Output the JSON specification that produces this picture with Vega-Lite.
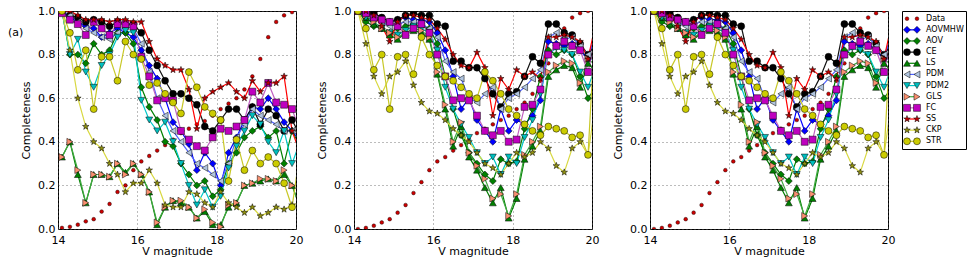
{
"$schema": "https://vega.github.io/schema/vega-lite/v6.json",
"padding": {"left": 7, "top": 4, "right": 2, "bottom": 2},
"background": "#ffffff",
"datasets": {
"d": [
{"p":1,"m":14.1,"Data":0.005,"AOVMHW":1,"AOV":1,"CE":1,"LS":0.33,"PDM":1,"PDM2":1,"GLS":0.33,"FC":0.99,"SS":1,"CKP":1,"STR":1},
{"p":1,"m":14.3,"Data":0.01,"AOVMHW":0.97,"AOV":0.8,"CE":0.98,"LS":0.4,"PDM":0.98,"PDM2":0.8,"GLS":0.4,"FC":0.96,"SS":1,"CKP":0.82,"STR":0.9},
{"p":1,"m":14.5,"Data":0.02,"AOVMHW":0.95,"AOV":0.8,"CE":0.97,"LS":0.25,"PDM":0.95,"PDM2":0.87,"GLS":0.27,"FC":0.94,"SS":0.98,"CKP":0.6,"STR":0.73},
{"p":1,"m":14.7,"Data":0.035,"AOVMHW":0.93,"AOV":0.76,"CE":0.95,"LS":0.12,"PDM":0.92,"PDM2":0.72,"GLS":0.12,"FC":0.89,"SS":0.96,"CKP":0.47,"STR":0.82},
{"p":1,"m":14.9,"Data":0.045,"AOVMHW":0.92,"AOV":0.85,"CE":0.96,"LS":0.25,"PDM":0.9,"PDM2":0.65,"GLS":0.25,"FC":0.95,"SS":0.96,"CKP":0.4,"STR":0.55},
{"p":1,"m":15.1,"Data":0.08,"AOVMHW":0.88,"AOV":0.8,"CE":0.95,"LS":0.25,"PDM":0.88,"PDM2":0.75,"GLS":0.25,"FC":0.92,"SS":0.96,"CKP":0.37,"STR":0.79},
{"p":1,"m":15.3,"Data":0.115,"AOVMHW":0.9,"AOV":0.82,"CE":0.93,"LS":0.24,"PDM":0.87,"PDM2":0.8,"GLS":0.24,"FC":0.89,"SS":0.95,"CKP":0.3,"STR":0.79},
{"p":1,"m":15.5,"Data":0.17,"AOVMHW":0.92,"AOV":0.9,"CE":0.95,"LS":0.3,"PDM":0.9,"PDM2":0.88,"GLS":0.3,"FC":0.94,"SS":0.96,"CKP":0.25,"STR":0.68},
{"p":1,"m":15.7,"Data":0.2,"AOVMHW":0.9,"AOV":0.9,"CE":0.94,"LS":0.26,"PDM":0.93,"PDM2":0.91,"GLS":0.25,"FC":0.94,"SS":0.96,"CKP":0.17,"STR":0.86},
{"p":1,"m":15.9,"Data":0.27,"AOVMHW":0.88,"AOV":0.85,"CE":0.94,"LS":0.3,"PDM":0.92,"PDM2":0.9,"GLS":0.3,"FC":0.93,"SS":0.95,"CKP":0.21,"STR":0.8},
{"p":1,"m":16.1,"Data":0.31,"AOVMHW":0.82,"AOV":0.65,"CE":0.9,"LS":0.25,"PDM":0.85,"PDM2":0.59,"GLS":0.25,"FC":0.79,"SS":0.95,"CKP":0.21,"STR":0.78},
{"p":1,"m":16.3,"Data":0.335,"AOVMHW":0.75,"AOV":0.56,"CE":0.82,"LS":0.17,"PDM":0.72,"PDM2":0.5,"GLS":0.17,"FC":0.7,"SS":0.86,"CKP":0.27,"STR":0.66},
{"p":1,"m":16.5,"Data":0.36,"AOVMHW":0.69,"AOV":0.5,"CE":0.75,"LS":0.02,"PDM":0.6,"PDM2":0.45,"GLS":0.03,"FC":0.59,"SS":0.78,"CKP":0.21,"STR":0.67},
{"p":1,"m":16.7,"Data":0.385,"AOVMHW":0.6,"AOV":0.4,"CE":0.68,"LS":0.1,"PDM":0.52,"PDM2":0.49,"GLS":0.1,"FC":0.6,"SS":0.75,"CKP":0.11,"STR":0.62},
{"p":1,"m":16.9,"Data":0.41,"AOVMHW":0.49,"AOV":0.38,"CE":0.62,"LS":0.13,"PDM":0.45,"PDM2":0.4,"GLS":0.13,"FC":0.59,"SS":0.73,"CKP":0.1,"STR":0.58},
{"p":1,"m":17.1,"Data":0.44,"AOVMHW":0.45,"AOV":0.3,"CE":0.62,"LS":0.12,"PDM":0.4,"PDM2":0.3,"GLS":0.13,"FC":0.45,"SS":0.73,"CKP":0.1,"STR":0.53},
{"p":1,"m":17.3,"Data":0.46,"AOVMHW":0.39,"AOV":0.25,"CE":0.6,"LS":0.1,"PDM":0.35,"PDM2":0.2,"GLS":0.1,"FC":0.41,"SS":0.64,"CKP":0.17,"STR":0.72},
{"p":1,"m":17.5,"Data":0.48,"AOVMHW":0.27,"AOV":0.2,"CE":0.57,"LS":0.05,"PDM":0.3,"PDM2":0.11,"GLS":0.05,"FC":0.38,"SS":0.46,"CKP":0.16,"STR":0.65},
{"p":1,"m":17.7,"Data":0.495,"AOVMHW":0.35,"AOV":0.22,"CE":0.47,"LS":0.08,"PDM":0.28,"PDM2":0.18,"GLS":0.09,"FC":0.36,"SS":0.6,"CKP":0.12,"STR":0.56},
{"p":1,"m":17.9,"Data":0.52,"AOVMHW":0.3,"AOV":0.15,"CE":0.45,"LS":0.02,"PDM":0.25,"PDM2":0.1,"GLS":0.03,"FC":0.42,"SS":0.63,"CKP":0.1,"STR":0.53},
{"p":1,"m":18.1,"Data":0.55,"AOVMHW":0.2,"AOV":0.18,"CE":0.5,"LS":0.02,"PDM":0.22,"PDM2":0.15,"GLS":0.01,"FC":0.46,"SS":0.65,"CKP":0.17,"STR":0.5},
{"p":1,"m":18.3,"Data":0.575,"AOVMHW":0.35,"AOV":0.3,"CE":0.55,"LS":0.1,"PDM":0.3,"PDM2":0.28,"GLS":0.11,"FC":0.45,"SS":0.67,"CKP":0.12,"STR":0.22},
{"p":1,"m":18.5,"Data":0.6,"AOVMHW":0.42,"AOV":0.35,"CE":0.55,"LS":0.12,"PDM":0.42,"PDM2":0.38,"GLS":0.12,"FC":0.47,"SS":0.63,"CKP":0.1,"STR":0.41},
{"p":1,"m":18.7,"Data":0.64,"AOVMHW":0.5,"AOV":0.42,"CE":0.5,"LS":0.2,"PDM":0.48,"PDM2":0.45,"GLS":0.2,"FC":0.5,"SS":0.6,"CKP":0.075,"STR":0.27},
{"p":1,"m":18.9,"Data":0.7,"AOVMHW":0.56,"AOV":0.45,"CE":0.56,"LS":0.21,"PDM":0.55,"PDM2":0.52,"GLS":0.21,"FC":0.63,"SS":0.68,"CKP":0.1,"STR":0.36},
{"p":1,"m":19.1,"Data":0.78,"AOVMHW":0.55,"AOV":0.47,"CE":0.48,"LS":0.22,"PDM":0.52,"PDM2":0.48,"GLS":0.23,"FC":0.58,"SS":0.63,"CKP":0.06,"STR":0.3},
{"p":1,"m":19.3,"Data":0.88,"AOVMHW":0.6,"AOV":0.42,"CE":0.55,"LS":0.23,"PDM":0.5,"PDM2":0.4,"GLS":0.23,"FC":0.67,"SS":0.67,"CKP":0.075,"STR":0.33},
{"p":1,"m":19.5,"Data":0.95,"AOVMHW":0.55,"AOV":0.45,"CE":0.52,"LS":0.22,"PDM":0.48,"PDM2":0.35,"GLS":0.22,"FC":0.58,"SS":0.67,"CKP":0.1,"STR":0.3},
{"p":1,"m":19.7,"Data":0.98,"AOVMHW":0.49,"AOV":0.3,"CE":0.45,"LS":0.25,"PDM":0.45,"PDM2":0.45,"GLS":0.27,"FC":0.57,"SS":0.7,"CKP":0.09,"STR":0.21},
{"p":1,"m":19.9,"Data":0.995,"AOVMHW":0.45,"AOV":0.45,"CE":0.5,"LS":0.2,"PDM":0.45,"PDM2":0.3,"GLS":0.2,"FC":0.55,"SS":0.45,"CKP":0.11,"STR":0.1},
{"p":1,"m":20.1,"Data":1,"AOVMHW":0.4,"AOV":0.38,"CE":0.43,"LS":0.1,"PDM":0.42,"PDM2":0.4,"GLS":0.1,"FC":0.45,"SS":0.35,"CKP":0.12,"STR":0.35},
{"p":2,"m":14.1,"Data":0,"AOVMHW":1,"AOV":1,"CE":1,"LS":1,"PDM":1,"PDM2":1,"GLS":1,"FC":1,"SS":1,"CKP":1,"STR":1},
{"p":2,"m":14.3,"Data":0.005,"AOVMHW":0.99,"AOV":0.95,"CE":1,"LS":0.97,"PDM":0.98,"PDM2":0.97,"GLS":0.98,"FC":0.99,"SS":1,"CKP":0.85,"STR":0.92},
{"p":2,"m":14.5,"Data":0.015,"AOVMHW":0.97,"AOV":0.93,"CE":0.99,"LS":0.94,"PDM":0.97,"PDM2":0.95,"GLS":0.95,"FC":0.97,"SS":0.98,"CKP":0.7,"STR":0.73},
{"p":2,"m":14.7,"Data":0.03,"AOVMHW":0.96,"AOV":0.92,"CE":0.97,"LS":0.92,"PDM":0.95,"PDM2":0.92,"GLS":0.92,"FC":0.96,"SS":0.93,"CKP":0.62,"STR":0.8},
{"p":2,"m":14.9,"Data":0.045,"AOVMHW":0.95,"AOV":0.9,"CE":0.95,"LS":0.89,"PDM":0.93,"PDM2":0.9,"GLS":0.9,"FC":0.95,"SS":0.86,"CKP":0.7,"STR":0.55},
{"p":2,"m":15.1,"Data":0.075,"AOVMHW":0.96,"AOV":0.92,"CE":0.96,"LS":0.87,"PDM":0.94,"PDM2":0.89,"GLS":0.88,"FC":0.93,"SS":0.95,"CKP":0.72,"STR":0.79},
{"p":2,"m":15.3,"Data":0.11,"AOVMHW":0.97,"AOV":0.93,"CE":0.98,"LS":0.9,"PDM":0.95,"PDM2":0.91,"GLS":0.9,"FC":0.89,"SS":0.98,"CKP":0.77,"STR":0.8},
{"p":2,"m":15.5,"Data":0.165,"AOVMHW":0.96,"AOV":0.94,"CE":0.99,"LS":0.91,"PDM":0.95,"PDM2":0.93,"GLS":0.92,"FC":0.92,"SS":0.98,"CKP":0.66,"STR":0.71},
{"p":2,"m":15.7,"Data":0.215,"AOVMHW":0.96,"AOV":0.93,"CE":0.98,"LS":0.9,"PDM":0.94,"PDM2":0.92,"GLS":0.91,"FC":0.94,"SS":0.97,"CKP":0.58,"STR":0.88},
{"p":2,"m":15.9,"Data":0.27,"AOVMHW":0.95,"AOV":0.92,"CE":0.98,"LS":0.87,"PDM":0.92,"PDM2":0.9,"GLS":0.88,"FC":0.9,"SS":0.96,"CKP":0.54,"STR":0.8},
{"p":2,"m":16.1,"Data":0.31,"AOVMHW":0.9,"AOV":0.85,"CE":0.94,"LS":0.71,"PDM":0.88,"PDM2":0.82,"GLS":0.72,"FC":0.8,"SS":0.92,"CKP":0.53,"STR":0.75},
{"p":2,"m":16.3,"Data":0.33,"AOVMHW":0.82,"AOV":0.7,"CE":0.93,"LS":0.55,"PDM":0.77,"PDM2":0.65,"GLS":0.57,"FC":0.7,"SS":0.87,"CKP":0.5,"STR":0.7},
{"p":2,"m":16.5,"Data":0.36,"AOVMHW":0.7,"AOV":0.55,"CE":0.77,"LS":0.38,"PDM":0.72,"PDM2":0.55,"GLS":0.4,"FC":0.59,"SS":0.8,"CKP":0.46,"STR":0.68},
{"p":2,"m":16.7,"Data":0.385,"AOVMHW":0.55,"AOV":0.43,"CE":0.77,"LS":0.47,"PDM":0.69,"PDM2":0.48,"GLS":0.49,"FC":0.6,"SS":0.75,"CKP":0.43,"STR":0.65},
{"p":2,"m":16.9,"Data":0.41,"AOVMHW":0.6,"AOV":0.35,"CE":0.74,"LS":0.33,"PDM":0.6,"PDM2":0.42,"GLS":0.35,"FC":0.59,"SS":0.74,"CKP":0.4,"STR":0.62},
{"p":2,"m":17.1,"Data":0.44,"AOVMHW":0.5,"AOV":0.3,"CE":0.74,"LS":0.27,"PDM":0.58,"PDM2":0.35,"GLS":0.29,"FC":0.52,"SS":0.81,"CKP":0.35,"STR":0.6},
{"p":2,"m":17.3,"Data":0.46,"AOVMHW":0.45,"AOV":0.25,"CE":0.69,"LS":0.19,"PDM":0.62,"PDM2":0.3,"GLS":0.23,"FC":0.45,"SS":0.74,"CKP":0.3,"STR":0.72},
{"p":2,"m":17.5,"Data":0.48,"AOVMHW":0.4,"AOV":0.22,"CE":0.62,"LS":0.12,"PDM":0.65,"PDM2":0.33,"GLS":0.14,"FC":0.43,"SS":0.52,"CKP":0.28,"STR":0.68},
{"p":2,"m":17.7,"Data":0.5,"AOVMHW":0.55,"AOV":0.32,"CE":0.56,"LS":0.19,"PDM":0.55,"PDM2":0.25,"GLS":0.16,"FC":0.45,"SS":0.69,"CKP":0.25,"STR":0.62},
{"p":2,"m":17.9,"Data":0.52,"AOVMHW":0.45,"AOV":0.3,"CE":0.62,"LS":0.05,"PDM":0.6,"PDM2":0.33,"GLS":0.06,"FC":0.4,"SS":0.64,"CKP":0.3,"STR":0.55},
{"p":2,"m":18.1,"Data":0.55,"AOVMHW":0.5,"AOV":0.31,"CE":0.63,"LS":0.14,"PDM":0.62,"PDM2":0.3,"GLS":0.16,"FC":0.41,"SS":0.73,"CKP":0.35,"STR":0.52},
{"p":2,"m":18.3,"Data":0.58,"AOVMHW":0.48,"AOV":0.46,"CE":0.7,"LS":0.32,"PDM":0.65,"PDM2":0.42,"GLS":0.34,"FC":0.56,"SS":0.7,"CKP":0.33,"STR":0.48},
{"p":2,"m":18.5,"Data":0.62,"AOVMHW":0.52,"AOV":0.55,"CE":0.79,"LS":0.38,"PDM":0.69,"PDM2":0.5,"GLS":0.4,"FC":0.57,"SS":0.72,"CKP":0.35,"STR":0.45},
{"p":2,"m":18.7,"Data":0.68,"AOVMHW":0.59,"AOV":0.7,"CE":0.76,"LS":0.45,"PDM":0.73,"PDM2":0.62,"GLS":0.47,"FC":0.64,"SS":0.69,"CKP":0.4,"STR":0.43},
{"p":2,"m":18.9,"Data":0.76,"AOVMHW":0.86,"AOV":0.82,"CE":0.94,"LS":0.7,"PDM":0.88,"PDM2":0.8,"GLS":0.72,"FC":0.8,"SS":0.88,"CKP":0.37,"STR":0.47},
{"p":2,"m":19.1,"Data":0.85,"AOVMHW":0.85,"AOV":0.8,"CE":0.94,"LS":0.73,"PDM":0.9,"PDM2":0.83,"GLS":0.75,"FC":0.84,"SS":0.88,"CKP":0.29,"STR":0.46},
{"p":2,"m":19.3,"Data":0.92,"AOVMHW":0.84,"AOV":0.82,"CE":0.9,"LS":0.75,"PDM":0.87,"PDM2":0.82,"GLS":0.77,"FC":0.86,"SS":0.89,"CKP":0.26,"STR":0.45},
{"p":2,"m":19.5,"Data":0.97,"AOVMHW":0.85,"AOV":0.8,"CE":0.89,"LS":0.74,"PDM":0.88,"PDM2":0.8,"GLS":0.76,"FC":0.84,"SS":0.88,"CKP":0.37,"STR":0.42},
{"p":2,"m":19.7,"Data":0.99,"AOVMHW":0.82,"AOV":0.7,"CE":0.85,"LS":0.65,"PDM":0.84,"PDM2":0.72,"GLS":0.67,"FC":0.82,"SS":0.86,"CKP":0.4,"STR":0.43},
{"p":2,"m":19.9,"Data":1,"AOVMHW":0.78,"AOV":0.6,"CE":0.8,"LS":0.76,"PDM":0.8,"PDM2":0.65,"GLS":0.78,"FC":0.72,"SS":0.78,"CKP":0.34,"STR":0.34},
{"p":2,"m":20.1,"Data":1,"AOVMHW":0.9,"AOV":0.65,"CE":0.85,"LS":0.72,"PDM":0.88,"PDM2":0.75,"GLS":0.75,"FC":0.89,"SS":0.95,"CKP":0.6,"STR":1}
],
"leg": [{"s":"Data"},{"s":"AOVMHW"},{"s":"AOV"},{"s":"CE"},{"s":"LS"},{"s":"PDM"},{"s":"PDM2"},{"s":"GLS"},{"s":"FC"},{"s":"SS"},{"s":"CKP"},{"s":"STR"}]
},
"spacing": 5,
"hconcat": [
{
"spacing": 58,
"bounds": "flush",
"hconcat": [
{
"width": 238, "height": 218,
"layer": [
{"data": {"name": "d"},
 "transform": [{"filter": "datum.p == 1"}, {"fold": ["Data"], "as": ["s","v"]}],
 "mark": {"type": "point", "filled": true, "opacity": 1, "size": 14, "fill": "#cc0000", "stroke": "#000000", "strokeWidth": 0.4, "clip": true},
 "encoding": {
  "x": {"field": "m", "type": "quantitative", "scale": {"domain": [14,20], "nice": false, "zero": false}, "axis": {"values": [14,15,16,17,18,19,20], "format": "d", "title": "V magnitude", "grid": true}},
  "y": {"field": "v", "type": "quantitative", "scale": {"domain": [0,1], "nice": false, "zero": false}, "axis": {"values": [0,0.2,0.4,0.6,0.8,1], "format": ".1f", "title": "Completeness", "grid": true}}
 }},
{"data": {"name": "d"},
 "transform": [{"filter": "datum.p == 1"}, {"fold": ["AOVMHW","AOV","CE","LS","PDM","PDM2","GLS","FC","SS","CKP","STR"], "as": ["s","v"]}],
 "mark": {"type": "line", "strokeWidth": 1.2, "clip": true},
 "encoding": {
  "x": {"field": "m", "type": "quantitative"},
  "y": {"field": "v", "type": "quantitative"},
  "stroke": {"field": "s", "type": "nominal", "scale": {"domain": ["AOVMHW","AOV","CE","LS","PDM","PDM2","GLS","FC","SS","CKP","STR"], "range": ["#0000ff","#008000","#111111","#008000","#4f63ff","#00c8c8","#40a840","#c060c0","#ff0000","#d8d840","#c8c828"]}, "legend": null}
 }},
{"data": {"name": "d"},
 "transform": [{"filter": "datum.p == 1"}, {"fold": ["AOVMHW","AOV","CE","LS","PDM","PDM2","GLS","FC","SS","CKP","STR"], "as": ["s","v"]}],
 "mark": {"type": "point", "filled": true, "opacity": 1, "size": 48, "stroke": "#000000", "strokeWidth": 0.5, "clip": true},
 "encoding": {
  "x": {"field": "m", "type": "quantitative"},
  "y": {"field": "v", "type": "quantitative"},
  "fill": {"field": "s", "type": "nominal", "scale": {"domain": ["Data","AOVMHW","AOV","CE","LS","PDM","PDM2","GLS","FC","SS","CKP","STR"], "range": ["#cc0000","#0000ff","#008000","#000000","#008000","#b0c4de","#00bfbf","#fa9070","#bf00bf","#bb0000","#909010","#cccc00"]}, "legend": null},
  "shape": {"field": "s", "type": "nominal", "scale": {"domain": ["Data","AOVMHW","AOV","CE","LS","PDM","PDM2","GLS","FC","SS","CKP","STR"], "range": ["circle","diamond","diamond","circle","triangle-up","triangle-left","triangle-down","triangle-right","square","M0,-1L0.235,-0.324L0.951,-0.309L0.38,0.124L0.588,0.809L0,0.4L-0.588,0.809L-0.38,0.124L-0.951,-0.309L-0.235,-0.324Z","M0,-1L0.235,-0.324L0.951,-0.309L0.38,0.124L0.588,0.809L0,0.4L-0.588,0.809L-0.38,0.124L-0.951,-0.309L-0.235,-0.324Z","circle"]}, "legend": null}
 }},
{"data": {"values": [{"t": "(a)"}]},
 "mark": {"type": "text", "align": "left", "baseline": "middle", "fontSize": 11, "font": "DejaVu Sans", "clip": false, "color": "#000000"},
 "encoding": {
  "x": {"datum": 12.74, "type": "quantitative"},
  "y": {"datum": 0.9, "type": "quantitative"},
  "text": {"field": "t"}
 }}
]
},
{
"width": 238, "height": 218,
"layer": [
{"data": {"name": "d"},
 "transform": [{"filter": "datum.p == 2"}, {"fold": ["Data"], "as": ["s","v"]}],
 "mark": {"type": "point", "filled": true, "opacity": 1, "size": 14, "fill": "#cc0000", "stroke": "#000000", "strokeWidth": 0.4, "clip": true},
 "encoding": {
  "x": {"field": "m", "type": "quantitative", "scale": {"domain": [14,20], "nice": false, "zero": false}, "axis": {"values": [14,15,16,17,18,19,20], "format": "d", "title": "V magnitude", "grid": true}},
  "y": {"field": "v", "type": "quantitative", "scale": {"domain": [0,1], "nice": false, "zero": false}, "axis": {"values": [0,0.2,0.4,0.6,0.8,1], "format": ".1f", "title": "Completeness", "grid": true}}
 }},
{"data": {"name": "d"},
 "transform": [{"filter": "datum.p == 2"}, {"fold": ["AOVMHW","AOV","CE","LS","PDM","PDM2","GLS","FC","SS","CKP","STR"], "as": ["s","v"]}],
 "mark": {"type": "line", "strokeWidth": 1.2, "clip": true},
 "encoding": {
  "x": {"field": "m", "type": "quantitative"},
  "y": {"field": "v", "type": "quantitative"},
  "stroke": {"field": "s", "type": "nominal", "scale": {"domain": ["AOVMHW","AOV","CE","LS","PDM","PDM2","GLS","FC","SS","CKP","STR"], "range": ["#0000ff","#008000","#111111","#008000","#4f63ff","#00c8c8","#40a840","#c060c0","#ff0000","#d8d840","#c8c828"]}, "legend": null}
 }},
{"data": {"name": "d"},
 "transform": [{"filter": "datum.p == 2"}, {"fold": ["AOVMHW","AOV","CE","LS","PDM","PDM2","GLS","FC","SS","CKP","STR"], "as": ["s","v"]}],
 "mark": {"type": "point", "filled": true, "opacity": 1, "size": 48, "stroke": "#000000", "strokeWidth": 0.5, "clip": true},
 "encoding": {
  "x": {"field": "m", "type": "quantitative"},
  "y": {"field": "v", "type": "quantitative"},
  "fill": {"field": "s", "type": "nominal", "scale": {"domain": ["Data","AOVMHW","AOV","CE","LS","PDM","PDM2","GLS","FC","SS","CKP","STR"], "range": ["#cc0000","#0000ff","#008000","#000000","#008000","#b0c4de","#00bfbf","#fa9070","#bf00bf","#bb0000","#909010","#cccc00"]}, "legend": null},
  "shape": {"field": "s", "type": "nominal", "scale": {"domain": ["Data","AOVMHW","AOV","CE","LS","PDM","PDM2","GLS","FC","SS","CKP","STR"], "range": ["circle","diamond","diamond","circle","triangle-up","triangle-left","triangle-down","triangle-right","square","M0,-1L0.235,-0.324L0.951,-0.309L0.38,0.124L0.588,0.809L0,0.4L-0.588,0.809L-0.38,0.124L-0.951,-0.309L-0.235,-0.324Z","M0,-1L0.235,-0.324L0.951,-0.309L0.38,0.124L0.588,0.809L0,0.4L-0.588,0.809L-0.38,0.124L-0.951,-0.309L-0.235,-0.324Z","circle"]}, "legend": null}
 }}
]
},
{
"width": 238, "height": 218,
"layer": [
{"data": {"name": "d"},
 "transform": [{"filter": "datum.p == 2"}, {"fold": ["Data"], "as": ["s","v"]}],
 "mark": {"type": "point", "filled": true, "opacity": 1, "size": 14, "fill": "#cc0000", "stroke": "#000000", "strokeWidth": 0.4, "clip": true},
 "encoding": {
  "x": {"field": "m", "type": "quantitative", "scale": {"domain": [14,20], "nice": false, "zero": false}, "axis": {"values": [14,15,16,17,18,19,20], "format": "d", "title": "V magnitude", "grid": true}},
  "y": {"field": "v", "type": "quantitative", "scale": {"domain": [0,1], "nice": false, "zero": false}, "axis": {"values": [0,0.2,0.4,0.6,0.8,1], "format": ".1f", "title": "Completeness", "grid": true}}
 }},
{"data": {"name": "d"},
 "transform": [{"filter": "datum.p == 2"}, {"fold": ["AOVMHW","AOV","CE","LS","PDM","PDM2","GLS","FC","SS","CKP","STR"], "as": ["s","v"]}],
 "mark": {"type": "line", "strokeWidth": 1.2, "clip": true},
 "encoding": {
  "x": {"field": "m", "type": "quantitative"},
  "y": {"field": "v", "type": "quantitative"},
  "stroke": {"field": "s", "type": "nominal", "scale": {"domain": ["AOVMHW","AOV","CE","LS","PDM","PDM2","GLS","FC","SS","CKP","STR"], "range": ["#0000ff","#008000","#111111","#008000","#4f63ff","#00c8c8","#40a840","#c060c0","#ff0000","#d8d840","#c8c828"]}, "legend": null}
 }},
{"data": {"name": "d"},
 "transform": [{"filter": "datum.p == 2"}, {"fold": ["AOVMHW","AOV","CE","LS","PDM","PDM2","GLS","FC","SS","CKP","STR"], "as": ["s","v"]}],
 "mark": {"type": "point", "filled": true, "opacity": 1, "size": 48, "stroke": "#000000", "strokeWidth": 0.5, "clip": true},
 "encoding": {
  "x": {"field": "m", "type": "quantitative"},
  "y": {"field": "v", "type": "quantitative"},
  "fill": {"field": "s", "type": "nominal", "scale": {"domain": ["Data","AOVMHW","AOV","CE","LS","PDM","PDM2","GLS","FC","SS","CKP","STR"], "range": ["#cc0000","#0000ff","#008000","#000000","#008000","#b0c4de","#00bfbf","#fa9070","#bf00bf","#bb0000","#909010","#cccc00"]}, "legend": null},
  "shape": {"field": "s", "type": "nominal", "scale": {"domain": ["Data","AOVMHW","AOV","CE","LS","PDM","PDM2","GLS","FC","SS","CKP","STR"], "range": ["circle","diamond","diamond","circle","triangle-up","triangle-left","triangle-down","triangle-right","square","M0,-1L0.235,-0.324L0.951,-0.309L0.38,0.124L0.588,0.809L0,0.4L-0.588,0.809L-0.38,0.124L-0.951,-0.309L-0.235,-0.324Z","M0,-1L0.235,-0.324L0.951,-0.309L0.38,0.124L0.588,0.809L0,0.4L-0.588,0.809L-0.38,0.124L-0.951,-0.309L-0.235,-0.324Z","circle"]}, "legend": null}
 }}
]
}
]
},
{
"width": 64, "height": 138,
"data": {"name": "leg"},
"encoding": {"y": {"field": "s", "type": "nominal", "sort": null, "scale": {"type": "point", "domain": ["Data","AOVMHW","AOV","CE","LS","PDM","PDM2","GLS","FC","SS","CKP","STR"], "padding": 0.69}, "axis": null}},
"layer": [
{"transform": [{"filter": "datum.s != 'Data'"}],
 "mark": {"type": "rule", "strokeWidth": 1.2},
 "encoding": {
  "x": {"datum": 0.078, "type": "quantitative", "scale": {"domain": [0,1], "nice": false, "zero": false}, "axis": null},
  "x2": {"datum": 0.234},
  "stroke": {"field": "s", "type": "nominal", "scale": {"domain": ["AOVMHW","AOV","CE","LS","PDM","PDM2","GLS","FC","SS","CKP","STR"], "range": ["#0000ff","#008000","#111111","#008000","#4f63ff","#00c8c8","#40a840","#c060c0","#ff0000","#d8d840","#c8c828"]}, "legend": null}
 }},
{"transform": [{"filter": "datum.s == 'Data'"}],
 "mark": {"type": "point", "filled": true, "opacity": 1, "size": 14, "fill": "#cc0000", "stroke": "#000000", "strokeWidth": 0.4},
 "encoding": {"x": {"datum": 0.078, "type": "quantitative"}}},
{"transform": [{"filter": "datum.s == 'Data'"}],
 "mark": {"type": "point", "filled": true, "opacity": 1, "size": 14, "fill": "#cc0000", "stroke": "#000000", "strokeWidth": 0.4},
 "encoding": {"x": {"datum": 0.234, "type": "quantitative"}}},
{"transform": [{"filter": "datum.s != 'Data'"}],
 "mark": {"type": "point", "filled": true, "opacity": 1, "size": 48, "stroke": "#000000", "strokeWidth": 0.5},
 "encoding": {
  "x": {"datum": 0.078, "type": "quantitative"},
  "fill": {"field": "s", "type": "nominal", "scale": {"domain": ["Data","AOVMHW","AOV","CE","LS","PDM","PDM2","GLS","FC","SS","CKP","STR"], "range": ["#cc0000","#0000ff","#008000","#000000","#008000","#b0c4de","#00bfbf","#fa9070","#bf00bf","#bb0000","#909010","#cccc00"]}, "legend": null},
  "shape": {"field": "s", "type": "nominal", "scale": {"domain": ["Data","AOVMHW","AOV","CE","LS","PDM","PDM2","GLS","FC","SS","CKP","STR"], "range": ["circle","diamond","diamond","circle","triangle-up","triangle-left","triangle-down","triangle-right","square","M0,-1L0.235,-0.324L0.951,-0.309L0.38,0.124L0.588,0.809L0,0.4L-0.588,0.809L-0.38,0.124L-0.951,-0.309L-0.235,-0.324Z","M0,-1L0.235,-0.324L0.951,-0.309L0.38,0.124L0.588,0.809L0,0.4L-0.588,0.809L-0.38,0.124L-0.951,-0.309L-0.235,-0.324Z","circle"]}, "legend": null}
 }},
{"transform": [{"filter": "datum.s != 'Data'"}],
 "mark": {"type": "point", "filled": true, "opacity": 1, "size": 48, "stroke": "#000000", "strokeWidth": 0.5},
 "encoding": {
  "x": {"datum": 0.234, "type": "quantitative"},
  "fill": {"field": "s", "type": "nominal", "legend": null},
  "shape": {"field": "s", "type": "nominal", "legend": null}
 }},
{"mark": {"type": "text", "align": "left", "baseline": "middle", "fontSize": 8, "font": "DejaVu Sans", "color": "#000000"},
 "encoding": {
  "x": {"datum": 0.375, "type": "quantitative"},
  "text": {"field": "s"}
 }}
]
}
],
"config": {
 "font": "DejaVu Sans",
 "view": {"stroke": "#000000", "strokeWidth": 1},
 "axis": {"labelFont": "DejaVu Sans", "labelFontSize": 11, "labelColor": "#000000", "titleFont": "DejaVu Sans", "titleFontSize": 11, "titleFontWeight": "normal", "titleColor": "#000000", "domain": false, "tickSize": 0, "gridColor": "#555555", "gridDash": [1,3], "gridWidth": 0.8, "labelFlush": false, "labelOverlap": false, "labelPadding": 3},
 "axisX": {"titlePadding": 0, "labelPadding": 5},
 "axisY": {"titlePadding": 6, "labelPadding": 3}
}
}
